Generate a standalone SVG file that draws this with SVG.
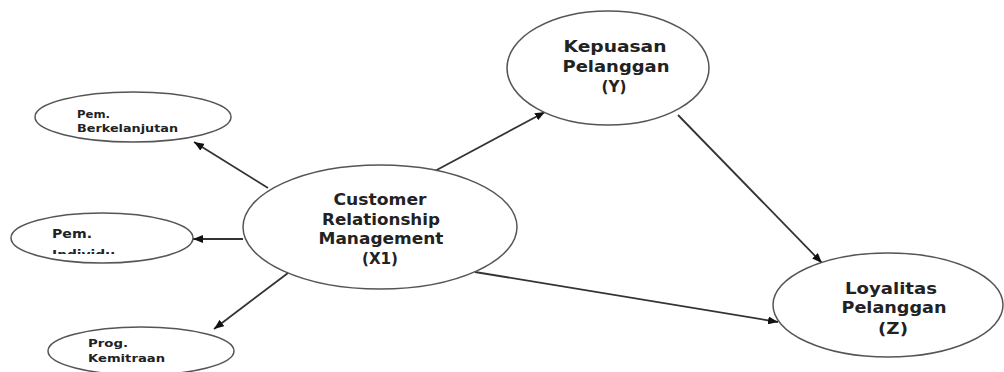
<svg xmlns="http://www.w3.org/2000/svg" width="1004" height="372" viewBox="0 0 1004 372">
<style>
.node{fill:#fff;stroke:#555;stroke-width:1.5}
.lbl{font-family:"DejaVu Sans",sans-serif;font-weight:bold;fill:#222}
.big{font-size:15px}
.sm{font-size:10px}
.conn{stroke:#333;stroke-width:1.8;fill:none;marker-end:url(#ah)}
</style>
<defs>
<marker id="ah" viewBox="0 0 10 8" refX="10" refY="4" markerWidth="10" markerHeight="8" markerUnits="userSpaceOnUse" orient="auto">
<path d="M0,0 L10,4 L0,8 z" fill="#111"/>
</marker>
<clipPath id="clipInd"><rect x="0" y="0" width="300" height="254"/></clipPath>
</defs>
<rect width="1004" height="372" fill="#fff"/>
<g id="connectors">
<line class="conn" x1="268" y1="188" x2="194" y2="142"/>
<line class="conn" x1="243" y1="239" x2="193" y2="239"/>
<line class="conn" x1="288" y1="273" x2="214" y2="329"/>
<line class="conn" x1="433" y1="172" x2="545" y2="112"/>
<line class="conn" x1="678" y1="115" x2="822" y2="263"/>
<line class="conn" x1="475" y1="272" x2="778" y2="322"/>
</g>
<g id="node-berkelanjutan">
<ellipse class="node" cx="133" cy="117" rx="98" ry="25"/>
<text class="lbl sm" x="77" y="118" textLength="33" lengthAdjust="spacingAndGlyphs">Pem.</text>
<text class="lbl sm" x="77" y="132" textLength="101" lengthAdjust="spacingAndGlyphs">Berkelanjutan</text>
</g>
<g id="node-individu">
<ellipse class="node" cx="102" cy="238" rx="91" ry="25"/>
<text class="lbl" font-size="12" x="52" y="238" textLength="40" lengthAdjust="spacingAndGlyphs">Pem.</text>
<text class="lbl" font-size="12" x="52" y="259" textLength="63" lengthAdjust="spacingAndGlyphs" clip-path="url(#clipInd)">Individu</text>
</g>
<g id="node-kemitraan">
<ellipse class="node" cx="141" cy="351" rx="93" ry="24"/>
<text class="lbl sm" x="88" y="347" textLength="40" lengthAdjust="spacingAndGlyphs">Prog.</text>
<text class="lbl sm" x="88" y="362" textLength="77" lengthAdjust="spacingAndGlyphs">Kemitraan</text>
</g>
<g id="node-crm">
<ellipse class="node" cx="380" cy="227" rx="137" ry="62"/>
<text class="lbl big" x="380" y="205" text-anchor="middle" textLength="93" lengthAdjust="spacingAndGlyphs">Customer</text>
<text class="lbl big" x="381" y="225" text-anchor="middle" textLength="118" lengthAdjust="spacingAndGlyphs">Relationship</text>
<text class="lbl big" x="381" y="244" text-anchor="middle" textLength="125" lengthAdjust="spacingAndGlyphs">Management</text>
<text class="lbl big" x="380" y="264" text-anchor="middle" textLength="36" lengthAdjust="spacingAndGlyphs">(X1)</text>
</g>
<g id="node-kepuasan">
<ellipse class="node" cx="608" cy="68" rx="101" ry="57"/>
<text class="lbl big" x="615" y="52" text-anchor="middle" textLength="103" lengthAdjust="spacingAndGlyphs">Kepuasan</text>
<text class="lbl big" x="616" y="72" text-anchor="middle" textLength="107" lengthAdjust="spacingAndGlyphs">Pelanggan</text>
<text class="lbl big" x="614" y="92" text-anchor="middle" textLength="25" lengthAdjust="spacingAndGlyphs">(Y)</text>
</g>
<g id="node-loyalitas">
<ellipse class="node" cx="888" cy="305" rx="115" ry="52"/>
<text class="lbl big" x="891" y="294" text-anchor="middle" textLength="92" lengthAdjust="spacingAndGlyphs">Loyalitas</text>
<text class="lbl big" x="894" y="313" text-anchor="middle" textLength="105" lengthAdjust="spacingAndGlyphs">Pelanggan</text>
<text class="lbl big" x="893" y="334" text-anchor="middle" textLength="30" lengthAdjust="spacingAndGlyphs">(Z)</text>
</g>
</svg>
